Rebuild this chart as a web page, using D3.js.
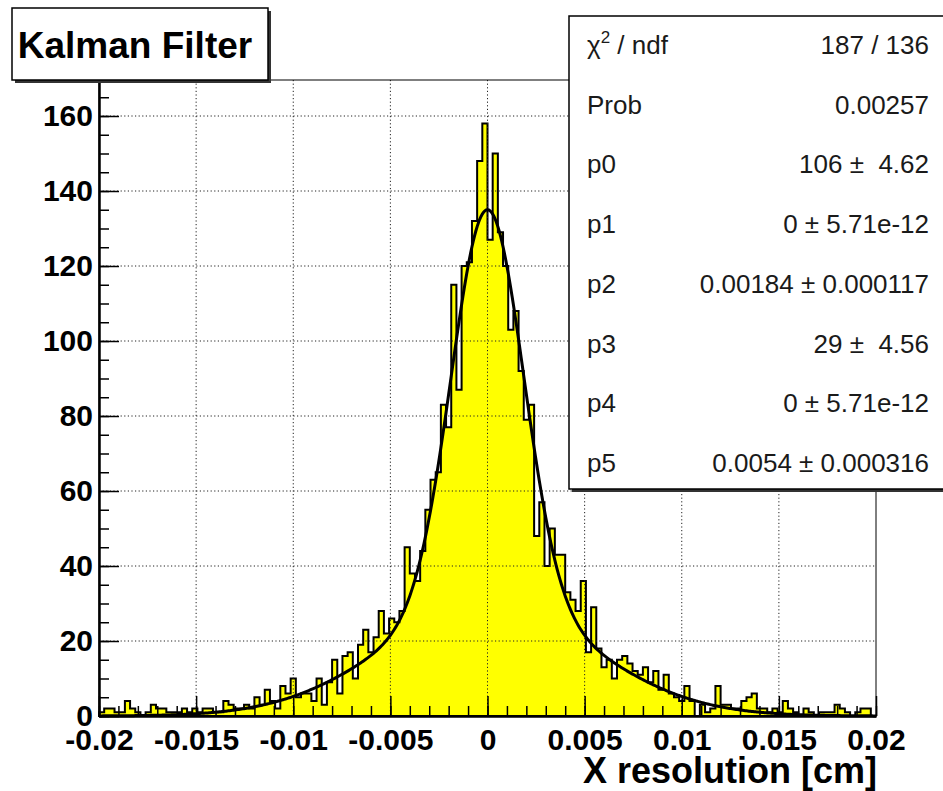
<!DOCTYPE html>
<html>
<head>
<meta charset="utf-8">
<script src="https://cdn.jsdelivr.net/npm/d3@7"></script>
<style>
  html, body { margin: 0; padding: 0; background: #fff; }
  svg { display: block; }
  text { font-family: "Liberation Sans", Arial, Helvetica, sans-serif; }
</style>
</head>
<body>
<svg id="chart" width="943" height="791"></svg>
<script>
// Histogram range and bin contents (150 bins over [-0.02, 0.02])
const xMin = -0.02;
const xMax = 0.02;
const binCounts = [
  1, 2, 2, 1, 1, 4, 2, 1, 0, 1,
  3, 2, 2, 1, 1, 1, 2, 1, 2, 1,
  2, 2, 1, 1, 4, 3, 2, 2, 3, 2,
  5, 3, 7, 4, 2, 8, 6, 10, 5, 6,
  6, 4, 10, 3, 9, 15, 6, 16, 17, 10,
  19, 23, 17, 21, 28, 22, 26, 25, 28, 45,
  38, 36, 44, 55, 63, 65, 83, 77, 115, 87,
  120, 121, 132, 148, 158, 127, 150, 129, 120, 103,
  108, 92, 79, 83, 48, 57, 40, 50, 43, 43,
  33, 31, 28, 36, 17, 29, 18, 13, 15, 10,
  15, 16, 14, 12, 11, 13, 9, 12, 7, 11,
  6, 5, 4, 8, 4, 0, 3, 1, 2, 8,
  3, 3, 2, 2, 4, 5, 6, 2, 2, 1,
  2, 1, 4, 2, 1, 0, 2, 1, 0, 1,
  1, 1, 3, 2, 1, 0, 1, 2, 2, 0
];

// Double-Gaussian fit parameters: p0..p5
const fitParams = [106, 0, 0.00184, 29, 0, 0.0054];

// Axis ticks
const yMax = 169.6;
const yTicks = [0, 20, 40, 60, 80, 100, 120, 140, 160];
const yMinorTicks = d3.range(0, 170, 5);
const xTicks = [-0.02, -0.015, -0.01, -0.005, 0, 0.005, 0.01, 0.015, 0.02];
const xTickLabels = ["-0.02", "-0.015", "-0.01", "-0.005", "0", "0.005", "0.01", "0.015", "0.02"];
const xMinorTicks = d3.range(-20, 21, 1).map(v => v / 1000);

// Fit statistics box rows
const statNames = ["\u03C7", "Prob", "p0", "p1", "p2", "p3", "p4", "p5"];
const statValues = ["187 / 136", "0.00257", "106 \u00B1  4.62", "0 \u00B1 5.71e-12",
                    "0.00184 \u00B1 0.000117", "29 \u00B1  4.56", "0 \u00B1 5.71e-12", "0.0054 \u00B1 0.000316"];

const titleText = "Kalman Filter";
const xTitle = "X resolution [cm]";

// ---- layout ----
const frame = { left: 99, right: 876, top: 80, bottom: 716 };
const svg = d3.select("#chart");

const x = d3.scaleLinear().domain([xMin, xMax]).range([frame.left, frame.right]);
const y = d3.scaleLinear().domain([0, yMax]).range([frame.bottom, frame.top]);

const nBins = binCounts.length;
const binW = (xMax - xMin) / nBins;

// Histogram as a single stepped outline
const histPts = [[xMin, 0]];
binCounts.forEach((c, i) => {
  const lo = xMin + i * binW, hi = lo + binW;
  histPts.push([lo, c], [hi, c]);
});
histPts.push([xMax, 0]);
const histLine = d3.line().x(d => x(d[0])).y(d => y(d[1]));

svg.append("path")
  .attr("d", histLine(histPts) + "Z")
  .attr("fill", "#ffff00")
  .attr("stroke", "#000")
  .attr("stroke-width", 2)
  .attr("stroke-linejoin", "miter");

// Dotted grid
const grid = svg.append("g").attr("stroke", "#222").attr("stroke-width", 1)
  .attr("stroke-dasharray", "1.2,2.4");
grid.selectAll("line.h").data(yTicks.filter(v => v > 0)).join("line")
  .attr("x1", frame.left).attr("x2", frame.right)
  .attr("y1", d => y(d)).attr("y2", d => y(d));
grid.selectAll("line.v").data(xTicks.slice(1, -1)).join("line")
  .attr("y1", frame.top).attr("y2", frame.bottom)
  .attr("x1", d => x(d)).attr("x2", d => x(d));

// Fit curve
const fitFn = xv => {
  const [a, m1, s1, b, m2, s2] = fitParams;
  return a * Math.exp(-0.5 * ((xv - m1) / s1) ** 2) + b * Math.exp(-0.5 * ((xv - m2) / s2) ** 2);
};
const curvePts = d3.range(0, 601).map(i => xMin + i * (xMax - xMin) / 600);
svg.append("path")
  .attr("d", d3.line().x(d => x(d)).y(d => y(fitFn(d)))(curvePts))
  .attr("fill", "none")
  .attr("stroke", "#000")
  .attr("stroke-width", 3);

// Frame border
svg.append("rect")
  .attr("x", frame.left).attr("y", frame.top)
  .attr("width", frame.right - frame.left).attr("height", frame.bottom - frame.top)
  .attr("fill", "none").attr("stroke", "#000").attr("stroke-width", 1);

// Axes (ticks point into the frame)
const xMinorAxis = d3.axisBottom(x).tickValues(xMinorTicks).tickSize(-10).tickSizeOuter(0).tickFormat("");
const xAxis = d3.axisBottom(x).tickValues(xTicks).tickSize(-20).tickSizeOuter(0).tickPadding(13)
  .tickFormat((d, i) => xTickLabels[i]);
const yMinorAxis = d3.axisLeft(y).tickValues(yMinorTicks).tickSize(-10).tickSizeOuter(0).tickFormat("");
const yAxis = d3.axisLeft(y).tickValues(yTicks).tickSize(-20).tickSizeOuter(0).tickPadding(6);

function styleAxis(g) {
  g.select(".domain").attr("stroke", "#000").attr("stroke-width", 2);
  g.selectAll(".tick line").attr("stroke", "#000").attr("stroke-width", 1.5);
  g.selectAll(".tick text")
    .attr("fill", "#000")
    .style("font-family", "'Liberation Sans', Arial, sans-serif")
    .style("font-weight", "bold")
    .style("font-size", "30px");
}

svg.append("g").attr("transform", `translate(0,${frame.bottom})`).call(xMinorAxis).call(styleAxis);
svg.append("g").attr("transform", `translate(0,${frame.bottom})`).call(xAxis).call(styleAxis);
svg.append("g").attr("transform", `translate(${frame.left},0)`).call(yMinorAxis).call(styleAxis);
svg.append("g").attr("transform", `translate(${frame.left},0)`).call(yAxis).call(styleAxis);

// Axis title
svg.append("text")
  .attr("x", 877).attr("y", 783)
  .attr("text-anchor", "end")
  .style("font-weight", "bold").style("font-size", "36px")
  .text(xTitle);

// Statistics box (drop shadow, then box)
const sb = { x: 569, y: 16, w: 390, h: 473 };
svg.append("rect").attr("x", sb.x + 3).attr("y", sb.y + 3).attr("width", sb.w).attr("height", sb.h)
  .attr("fill", "#333");
svg.append("rect").attr("x", sb.x).attr("y", sb.y).attr("width", sb.w).attr("height", sb.h)
  .attr("fill", "#fff").attr("stroke", "#000").attr("stroke-width", 1.5);

const rowY = d3.scaleLinear().domain([0, statNames.length - 1]).range([54, 472]);
const stats = svg.append("g").style("font-size", "26px").attr("fill", "#1a1a1a");
statNames.forEach((name, i) => {
  const t = stats.append("text").attr("x", 587).attr("y", rowY(i));
  if (i === 0) {
    t.append("tspan").text(name);
    t.append("tspan").attr("dy", -11).style("font-size", "17px").text("2");
    t.append("tspan").attr("dy", 11).text(" / ndf");
  } else {
    t.text(name);
  }
  stats.append("text")
    .attr("x", 929).attr("y", rowY(i))
    .attr("text-anchor", "end")
    .style("white-space", "pre")
    .text(statValues[i]);
});

// Title box
const tb = { x: 12, y: 8, w: 256, h: 72 };
svg.append("rect").attr("x", tb.x + 3).attr("y", tb.y + 3).attr("width", tb.w).attr("height", tb.h)
  .attr("fill", "#333");
svg.append("rect").attr("x", tb.x).attr("y", tb.y).attr("width", tb.w).attr("height", tb.h)
  .attr("fill", "#fff").attr("stroke", "#000").attr("stroke-width", 1.5);
svg.append("text")
  .attr("x", tb.x + tb.w / 2 - 5).attr("y", 58)
  .attr("text-anchor", "middle")
  .style("font-weight", "bold").style("font-size", "37px")
  .text(titleText);
</script>
</body>
</html>
